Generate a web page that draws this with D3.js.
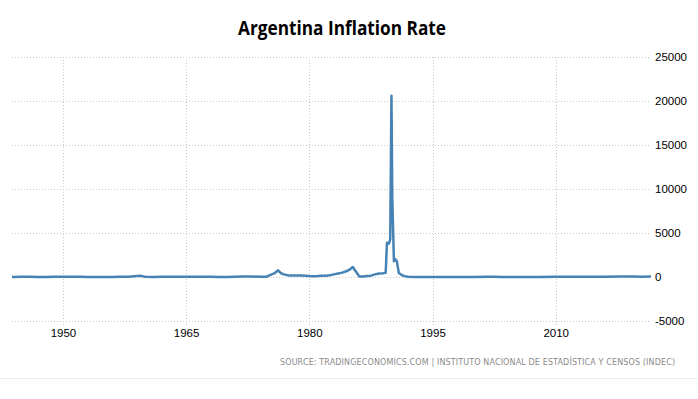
<!DOCTYPE html>
<html><head><meta charset="utf-8">
<script src="https://cdn.jsdelivr.net/npm/d3@7"></script>
<style>
body{margin:0;background:#fff;}
svg{display:block;}
</style></head>
<body><svg id="c" width="698" height="399"></svg>
<script>
const title = "Argentina Inflation Rate";
const sourceText = "SOURCE: TRADINGECONOMICS.COM | INSTITUTO NACIONAL DE ESTADÍSTICA Y CENSOS (INDEC)";
const xTicks = [1950, 1965, 1980, 1995, 2010];
const yTicks = [-5000, 0, 5000, 10000, 15000, 20000, 25000];
const dates = [1943.8, 1945.0, 1946.0, 1947.0, 1948.0, 1949.0, 1950.0, 1951.0, 1952.0, 1953.0, 1954.0, 1955.0, 1956.0, 1957.0, 1958.0, 1959.0, 1959.5, 1960.0, 1961.0, 1962.0, 1963.0, 1964.0, 1965.0, 1966.0, 1967.0, 1968.0, 1969.0, 1970.0, 1971.0, 1972.0, 1973.0, 1974.0, 1974.8, 1975.4, 1975.8, 1976.2, 1976.5, 1976.8, 1977.4, 1978.0, 1979.0, 1980.0, 1980.5, 1981.0, 1981.5, 1982.0, 1982.5, 1983.0, 1983.5, 1984.0, 1984.5, 1985.0, 1985.3, 1985.6, 1986.1, 1986.5, 1987.0, 1987.5, 1988.0, 1988.5, 1989.0, 1989.3, 1989.45, 1989.7, 1989.85, 1990.0, 1990.1, 1990.3, 1990.5, 1990.65, 1990.9, 1991.3, 1991.6, 1992.0, 1993.0, 1994.0, 1996.0, 1998.0, 2000.0, 2002.0, 2002.5, 2003.5, 2005.0, 2008.0, 2010.0, 2012.0, 2014.0, 2016.0, 2018.0, 2019.5, 2020.5, 2021.6];
const inflation = [0, 20, 18, 13, 13, 31, 26, 37, 39, 4, 4, 12, 13, 25, 32, 110, 130, 27, 14, 28, 24, 22, 29, 32, 29, 16, 8, 14, 35, 58, 61, 24, 40, 300, 450, 760, 480, 330, 180, 170, 160, 100, 90, 100, 130, 150, 200, 300, 400, 500, 650, 900, 1130, 700, 60, 60, 100, 150, 300, 400, 420, 500, 3900, 3800, 4300, 20600, 9000, 1800, 2000, 1800, 450, 200, 100, 20, 10, 4, 0, 1, -1, 30, 40, 10, 12, 8, 25, 25, 40, 40, 45, 55, 40, 50];

const svg = d3.select("#c");
const x = d3.scaleLinear().domain([1943.8, 2021.6]).range([12, 651]);
const y = d3.scaleLinear().domain([-5000, 25000]).range([321, 57]);
const fmt = d => String(d);

// horizontal grid
const yAxis = d3.axisRight(y).tickValues(yTicks).tickSize(0).tickPadding(0).tickFormat(fmt);
const gy = svg.append("g").attr("transform", "translate(655,0)").call(yAxis);
gy.select(".domain").remove();
gy.selectAll("text").attr("x", 0).attr("text-anchor", "start")
  .style("font-family", "'Liberation Sans', Arial, sans-serif").style("font-size", "11.5px").attr("fill", "#000");
svg.append("g").selectAll("line").data(yTicks).join("line")
  .attr("x1", 12).attr("x2", 650).attr("y1", d => Math.round(y(d)) + 0.5).attr("y2", d => Math.round(y(d)) + 0.5)
  .attr("stroke", "#c8c8c8").attr("stroke-dasharray", "1,2");

// x axis + vertical grid
const xAxis = d3.axisBottom(x).tickValues(xTicks).tickSize(0).tickPadding(0).tickFormat(fmt);
const gx = svg.append("g").attr("transform", "translate(0,327)").call(xAxis);
gx.select(".domain").remove();
gx.selectAll("text").attr("y", 10).attr("dy", 0)
  .style("font-family", "'Liberation Sans', Arial, sans-serif").style("font-size", "11.5px").attr("fill", "#000");
svg.append("g").selectAll("line").data(xTicks).join("line")
  .attr("x1", d => Math.round(x(d)) + 0.5).attr("x2", d => Math.round(x(d)) + 0.5)
  .attr("y1", 57).attr("y2", 326)
  .attr("stroke", "#c8c8c8").attr("stroke-dasharray", "1,2");

// line
const line = d3.line().x((d, i) => x(dates[i])).y(d => y(d)).curve(d3.curveLinear);
svg.append("path").datum(inflation).attr("d", line)
  .attr("fill", "none").attr("stroke", "#4682b4").attr("stroke-width", 2.5).attr("stroke-linejoin", "round");

// title
svg.append("text").attr("x", 342).attr("y", 35).attr("text-anchor", "middle")
  .attr("textLength", 208).attr("lengthAdjust", "spacingAndGlyphs")
  .style("font-family", "'Open Sans', sans-serif").style("font-weight", "bold").style("font-size", "20px")
  .attr("fill", "#000").text(title);

// source
svg.append("text").attr("x", 675).attr("y", 365).attr("text-anchor", "end")
  .attr("textLength", 395).attr("lengthAdjust", "spacing")
  .style("font-family", "'DejaVu Sans', sans-serif").style("font-size", "8px")
  .attr("fill", "#8a8a8a").text(sourceText);

svg.append("line").attr("x1", 0).attr("x2", 698).attr("y1", 378.5).attr("y2", 378.5)
  .attr("stroke", "#eeeeee").attr("stroke-width", 1);
</script></body></html>
